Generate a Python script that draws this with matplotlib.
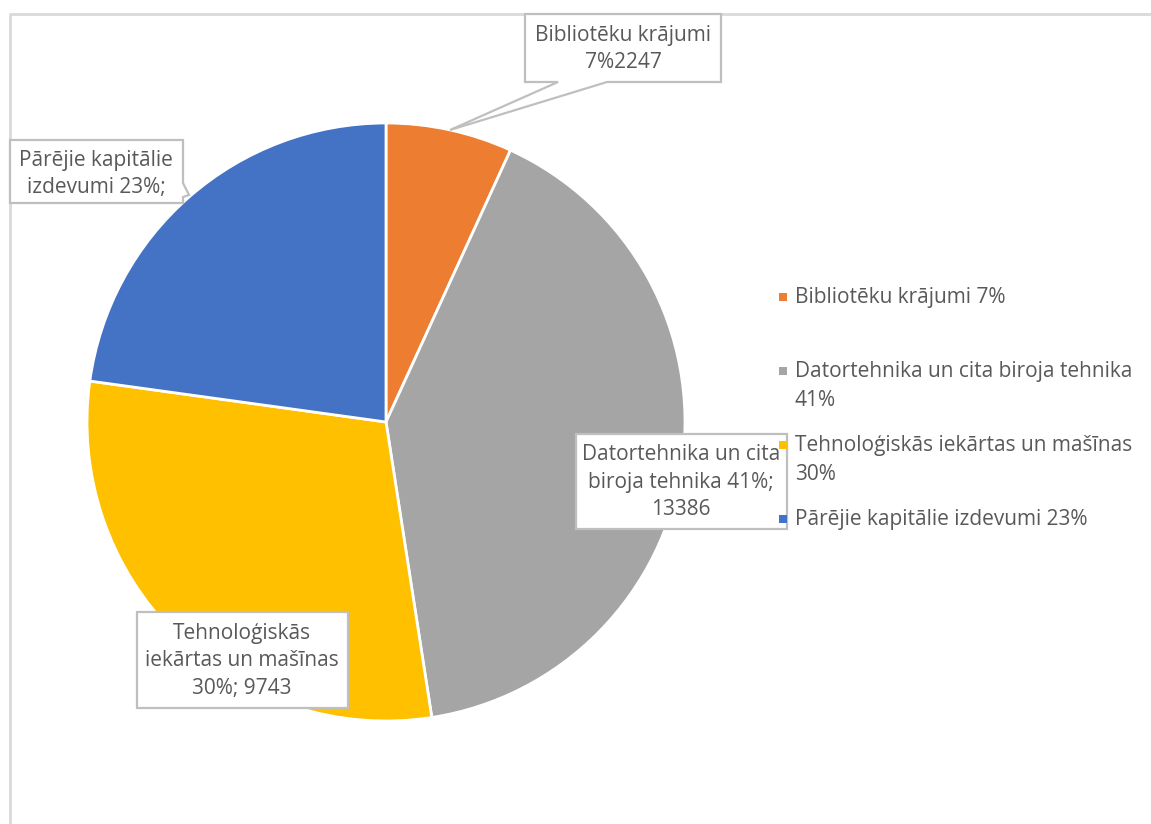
import matplotlib
matplotlib.use("Agg")
import matplotlib.pyplot as plt
from matplotlib.patches import Polygon, Rectangle

categories = ["Bibliotēku krājumi", "Datortehnika un cita biroja tehnika",
              "Tehnoloģiskās iekārtas un mašīnas", "Pārējie kapitālie izdevumi"]
values = [2247, 13386, 9743, 7500]
colors = ["#ED7D31", "#A5A5A5", "#FFC000", "#4472C4"]

total = sum(values)
pcts = [round(v / total * 100) for v in values]

W, H = 1151, 824
plt.rcParams['font.family'] = ['Open Sans', 'DejaVu Sans']
TXT = "#595959"
FS = 15

fig = plt.figure(figsize=(W / 100, H / 100), dpi=100)
ax = fig.add_axes([0, 0, 1, 1])

def Y(y):
    return H - y

# chart frame (partially visible)
ax.plot([10, 10, W], [Y(H), Y(14), Y(14)], color="#D9D9D9", lw=2, zorder=1)

ax.pie(values, colors=colors, startangle=90, counterclock=False,
       center=(386, Y(422)), radius=299, frame=True,
       wedgeprops=dict(edgecolor="white", linewidth=2, zorder=2))
ax.set_xlim(0, W)
ax.set_ylim(0, H)
ax.axis("off")
ax.set_aspect("equal")

def callout(pts, text, cx, cy, fs=FS, ls=1.42):
    poly = Polygon([(x, Y(y)) for x, y in pts], closed=True, facecolor="white",
                   edgecolor="#BFBFBF", lw=1.6, zorder=5)
    ax.add_patch(poly)
    ax.text(cx, Y(cy), text, ha="center", va="center", fontsize=fs,
            color=TXT, linespacing=ls, zorder=6)

# Bibliotēku krājumi
callout([(525, 14), (721, 14), (721, 82), (607, 82), (450, 130), (558, 82), (525, 82)],
        f"{categories[0]}\n{pcts[0]}%{values[0]}", 623, 49)
# Pārējie
callout([(10, 140), (183, 140), (183, 183), (189, 195), (183, 197), (183, 203), (10, 203)],
        f"Pārējie kapitālie\nizdevumi {pcts[3]}%;", 96, 174)
# Datortehnika
callout([(576, 434), (787, 434), (787, 529), (576, 529)],
        f"Datortehnika un cita\nbiroja tehnika {pcts[1]}%;\n{values[1]}", 681, 482)
# Tehnoloģiskās
callout([(137, 612), (348, 612), (348, 708), (137, 708)],
        f"Tehnoloģiskās\niekārtas un mašīnas\n{pcts[2]}%; {values[2]}", 242, 661)

# Legend
leg_labels = [f"{categories[0]} {pcts[0]}%",
              f"{categories[1]}\n{pcts[1]}%",
              f"{categories[2]}\n{pcts[2]}%",
              f"{categories[3]} {pcts[3]}%"]
leg_y = [297, 371, 445, 519]
for lab, yy, c in zip(leg_labels, leg_y, colors):
    ax.add_patch(Rectangle((779, Y(yy) - 4), 8, 8, facecolor=c, edgecolor="none", zorder=7))
    ax.text(795, Y(yy) + 10, lab, ha="left", va="top", fontsize=FS, color=TXT,
            linespacing=1.5, zorder=7)

fig.savefig("out.png", dpi=100)
